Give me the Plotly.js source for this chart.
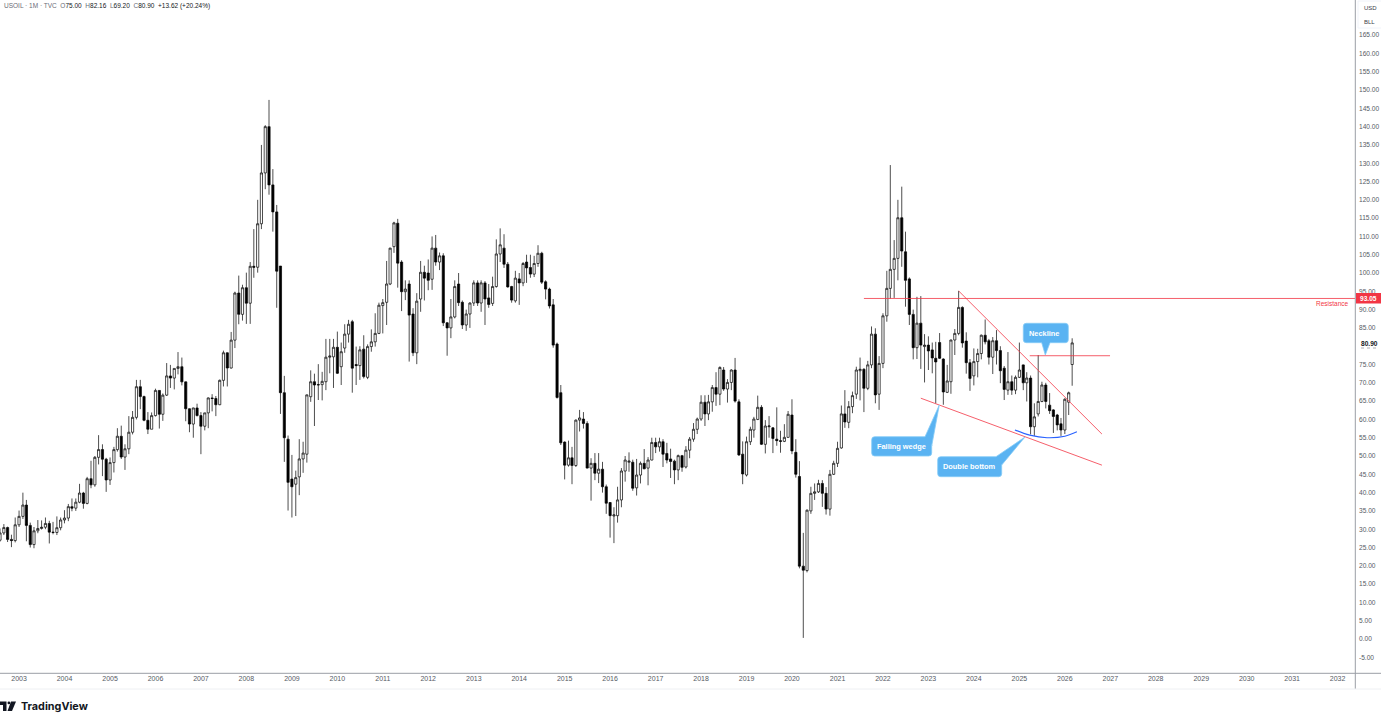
<!DOCTYPE html>
<html>
<head>
<meta charset="utf-8">
<script src="https://cdn.plot.ly/plotly-3.0.1.min.js"></script>
<style>
html, body { margin: 0; padding: 0; background: #fff; overflow: hidden; }
#chart { width: 1381px; height: 722px; }
</style>
</head>
<body>
<div id="chart"></div>
<script>
// first candle of the monthly series, one value per month from here on
var first_year = 2002, first_month = 8;

var opens = [
    27.00, 28.98, 30.45, 27.22, 26.89,
    31.20, 33.51, 36.60, 31.04, 25.80, 29.56, 30.19, 30.54, 31.57, 29.20, 29.11, 30.41,
    32.52, 33.05, 36.16, 35.76, 37.38, 39.88, 37.05, 43.80, 42.12, 49.64, 51.76, 49.13,
    43.45, 48.20, 51.75, 55.40, 49.72, 51.97, 56.50, 60.57, 68.94, 66.24, 59.76, 57.32,
    61.04, 67.92, 61.41, 66.63, 71.88, 71.29, 73.93, 74.40, 70.26, 62.91, 58.73, 63.13,
    61.05, 58.14, 61.79, 65.87, 65.71, 64.01, 70.68, 78.21, 74.04, 81.66, 94.53, 88.71,
    95.98, 91.75, 101.84, 101.58, 113.46, 127.35, 140.00, 124.08, 116.7, 101.9, 67.3, 54.6,
    43.7, 42.3, 44.3, 49.2, 50.5, 66.2, 70.3, 69.4, 69.5, 70.3, 77.0, 77.1,
    79.7, 74.4, 79.5, 83.3, 86.7, 75.0, 74.7, 79.2, 71.5, 79.9, 81.2, 83.5,
    91.1, 92.0, 97.0, 107.2, 113.6, 103.0, 94.9, 97.0, 88.8, 78.2, 92.9, 100.2,
    100.0, 98.3, 106.8, 103.0, 104.7, 86.4, 85.0, 88.0, 97.0, 92.0, 85.8, 88.8,
    91.8, 97.3, 91.8, 97.3, 93.2, 91.7, 96.3, 105.2, 106.8, 102.4, 96.3, 92.4,
    98.4, 97.3, 103.0, 101.5, 99.7, 102.6, 105.4, 97.6, 95.6, 91.3, 80.6, 67.3,
    53.8, 47.5, 49.5, 47.4, 59.8, 60.1, 58.9, 46.7, 48.0, 45.3, 46.4, 41.6,
    37.3, 33.6, 33.7, 38.0, 45.9, 48.3, 48.3, 41.3, 44.8, 48.0, 46.7, 48.9,
    53.7, 52.5, 53.9, 50.7, 49.2, 48.6, 46.2, 50.1, 47.0, 51.6, 54.6, 57.3,
    60.1, 64.7, 61.5, 64.8, 68.7, 66.9, 73.5, 68.3, 70.1, 73.5, 64.8, 50.5,
    44.8, 53.9, 57.1, 60.0, 63.3, 53.2, 58.0, 57.7, 54.6, 54.2, 54.0, 55.1,
    61.2, 51.0, 44.4, 19.9, 18.7, 35.0, 39.8, 40.2, 42.5, 39.8, 35.5, 45.0,
    48.0, 52.2, 61.5, 59.2, 63.5, 66.9, 73.3, 73.7, 68.5, 74.9, 83.3, 66.9,
    75.3, 88.3, 95.8, 101.0, 104.0, 115.1, 105.8, 98.4, 88.7, 79.6, 86.3, 79.9,
    80.3, 79.0, 76.7, 81.0, 76.5, 67.4, 70.3, 81.7, 83.5, 90.6, 81.4, 75.5,
    71.9, 75.8, 78.0, 83.0, 81.5, 77.0, 81.5, 78.8, 74.0, 68.0, 70.3, 68.0,
    71.5, 74.9, 70.0, 71.3, 58.0, 61.5, 64.9, 69.4, 63.9, 62.6, 61.2, 58.8,
    57.1, 64.7, 75.00
];
var highs = [
    30.2, 31.4, 30.7, 28.5, 33.2,
    35.1, 39.99, 38.0, 31.8, 30.6, 32.5, 32.4, 33.2, 32.3, 32.0, 33.5, 33.2,
    35.2, 36.9, 38.4, 38.4, 42.4, 40.2, 44.3, 48.7, 50.0, 55.7, 53.2, 49.5,
    49.6, 52.5, 57.6, 58.3, 53.2, 60.9, 62.3, 70.8, 70.8, 66.5, 62.0, 61.9,
    68.4, 68.0, 67.1, 75.4, 74.9, 73.9, 78.4, 76.9, 70.3, 63.0, 63.2, 64.3,
    62.0, 61.8, 66.0, 66.9, 66.4, 70.9, 78.8, 78.3, 83.9, 94.9, 99.3, 96.8,
    100.1, 103.0, 112.0, 120.0, 135.0, 140.4, 147.3, 128.4, 118.6, 101.9, 71.9, 55.6,
    50.3, 46.0, 54.6, 53.9, 66.8, 73.4, 72.5, 75.1, 73.0, 82.0, 82.0, 82.0,
    84.0, 81.0, 86.0, 87.2, 87.2, 79.9, 80.0, 83.0, 80.5, 84.6, 89.0, 91.9,
    92.9, 103.3, 106.9, 114.0, 114.8, 103.5, 98.0, 98.0, 90.4, 94.5, 103.3, 102.0,
    103.7, 110.0, 110.4, 105.6, 105.4, 86.6, 92.9, 98.0, 100.0, 92.5, 90.0, 92.0,
    98.0, 98.0, 98.0, 97.8, 97.0, 99.0, 109.2, 112.2, 110.6, 103.0, 96.5, 100.6,
    100.0, 103.0, 105.0, 105.0, 104.7, 107.6, 105.8, 98.0, 96.0, 92.9, 81.0, 69.4,
    54.0, 54.2, 52.5, 60.0, 62.6, 62.0, 59.5, 49.4, 50.8, 50.8, 48.4, 42.2,
    37.4, 36.0, 41.6, 46.7, 50.0, 51.0, 49.0, 49.2, 48.5, 51.9, 49.7, 55.0,
    55.0, 55.0, 54.6, 53.6, 52.0, 49.0, 50.4, 50.3, 52.7, 55.2, 59.0, 60.5,
    66.6, 66.6, 66.7, 69.4, 72.9, 74.5, 74.3, 71.0, 73.7, 76.8, 65.5, 54.0,
    55.3, 58.0, 60.7, 66.5, 63.9, 59.8, 60.9, 57.9, 63.3, 56.9, 58.7, 62.3,
    65.5, 54.6, 48.6, 29.0, 35.4, 41.6, 42.5, 43.5, 43.4, 41.5, 46.2, 48.7,
    53.9, 63.8, 68.0, 65.0, 67.6, 74.4, 76.9, 74.0, 76.0, 85.4, 84.9, 77.3,
    89.0, 100.6, 129.5, 109.0, 120.0, 123.6, 111.3, 98.8, 90.0, 93.5, 93.7, 83.3,
    82.7, 81.0, 81.2, 83.6, 76.7, 74.9, 81.8, 84.7, 95.1, 90.9, 83.8, 76.5,
    79.4, 79.3, 83.2, 87.3, 82.0, 82.5, 84.4, 80.0, 74.6, 78.4, 72.0, 72.0,
    81.0, 75.0, 72.9, 72.0, 64.4, 77.6, 70.3, 70.0, 67.2, 62.8, 61.5, 60.4,
    65.8, 67.6, 82.16
];
var lows = [
    26.6, 28.4, 26.5, 25.1, 26.4,
    30.6, 32.8, 26.7, 25.0, 24.8, 28.9, 29.9, 30.0, 26.1, 28.6, 28.4, 29.7,
    31.6, 32.2, 34.9, 35.0, 37.1, 35.6, 36.8, 41.2, 41.6, 47.7, 44.5, 40.2,
    42.1, 45.5, 51.2, 49.2, 46.2, 50.5, 55.9, 60.0, 62.8, 59.5, 56.0, 57.3,
    60.8, 57.5, 59.6, 66.4, 68.6, 68.2, 72.3, 69.3, 59.5, 56.5, 55.0, 60.8,
    50.5, 57.0, 57.6, 62.2, 60.9, 63.9, 69.0, 69.0, 73.9, 79.5, 86.0, 87.0,
    86.1, 86.1, 98.7, 100.1, 112.0, 122.9, 121.4, 111.3, 90.5, 61.5, 48.4, 35.1,
    33.2, 33.6, 39.3, 45.4, 48.2, 64.8, 58.2, 65.3, 65.2, 68.0, 72.6, 68.6,
    72.4, 69.4, 78.2, 81.0, 67.3, 69.4, 70.8, 71.2, 71.0, 78.5, 79.9, 83.3,
    83.5, 85.8, 96.7, 105.5, 96.0, 89.6, 92.6, 75.8, 77.3, 75.1, 89.4, 92.5,
    95.3, 95.4, 102.0, 100.8, 85.5, 77.4, 82.2, 87.6, 91.0, 84.7, 84.2, 85.0,
    91.0, 91.0, 89.4, 85.8, 90.5, 91.0, 96.0, 103.0, 101.4, 96.0, 91.9, 91.9,
    91.3, 96.4, 97.3, 98.7, 98.9, 101.7, 97.0, 92.8, 90.3, 79.6, 65.7, 53.0,
    43.6, 47.1, 42.3, 47.0, 56.7, 57.5, 46.6, 37.8, 43.4, 42.6, 40.0, 34.2,
    27.7, 26.2, 31.8, 36.0, 43.0, 45.7, 40.5, 39.2, 42.5, 46.4, 42.0, 48.8,
    50.8, 51.2, 47.0, 48.0, 44.0, 42.3, 43.4, 45.7, 46.6, 49.4, 53.9, 56.0,
    59.6, 58.2, 59.8, 62.1, 63.7, 63.9, 67.8, 64.6, 68.0, 64.6, 50.0, 42.3,
    44.4, 53.0, 55.0, 59.8, 53.0, 50.7, 55.0, 50.8, 52.8, 50.9, 53.8, 55.0,
    50.5, 44.1, 19.3, 0.3, 18.2, 34.2, 38.0, 39.9, 36.1, 34.0, 33.7, 44.8,
    47.0, 52.0, 57.7, 57.6, 61.7, 65.6, 65.2, 62.0, 68.0, 74.0, 64.4, 62.6,
    74.0, 86.7, 93.0, 93.2, 98.0, 101.7, 90.8, 85.8, 76.4, 76.5, 73.8, 70.1,
    73.5, 72.6, 64.4, 76.5, 64.0, 67.2, 67.0, 77.6, 83.0, 79.6, 72.5, 67.8,
    69.3, 71.5, 76.4, 80.5, 75.0, 72.4, 75.0, 69.9, 65.3, 66.7, 66.7, 66.9,
    71.3, 68.0, 64.9, 55.9, 55.5, 60.8, 64.7, 63.0, 61.5, 56.3, 57.0, 55.5,
    56.0, 61.2, 69.20
];
var closes = [
    28.98, 30.45, 27.22, 26.89, 31.20,
    33.51, 36.60, 31.04, 25.80, 29.56, 30.19, 30.54, 31.57, 29.20, 29.11, 30.41, 32.52,
    33.05, 36.16, 35.76, 37.38, 39.88, 37.05, 43.80, 42.12, 49.64, 51.76, 49.13, 43.45,
    48.20, 51.75, 55.40, 49.72, 51.97, 56.50, 60.57, 68.94, 66.24, 59.76, 57.32, 61.04,
    67.92, 61.41, 66.63, 71.88, 71.29, 73.93, 74.40, 70.26, 62.91, 58.73, 63.13, 61.05,
    58.14, 61.79, 65.87, 65.71, 64.01, 70.68, 78.21, 74.04, 81.66, 94.53, 88.71, 95.98,
    91.75, 101.84, 101.58, 113.46, 127.35, 140.00, 124.08, 116.7, 100.5, 67.3, 55.0, 42.8,
    41.6, 44.1, 49.2, 50.8, 66.7, 70.3, 69.4, 69.5, 70.4, 77.0, 77.3, 79.7,
    72.6, 78.5, 83.3, 86.0, 74.0, 74.7, 79.0, 71.7, 79.9, 81.2, 83.5, 91.2,
    91.9, 97.0, 106.8, 113.7, 102.7, 94.9, 95.6, 88.5, 78.2, 92.3, 100.2, 98.6,
    98.0, 106.8, 103.0, 104.7, 86.4, 85.0, 88.0, 96.3, 91.9, 85.8, 88.8, 91.8,
    97.3, 91.8, 97.3, 92.9, 91.4, 96.3, 105.2, 107.7, 102.4, 96.2, 92.6, 98.6,
    97.3, 102.6, 101.4, 99.7, 102.6, 105.4, 97.5, 95.6, 91.0, 80.3, 66.0, 53.6,
    47.5, 49.5, 47.4, 59.8, 60.4, 58.9, 46.7, 48.0, 45.3, 46.4, 41.6, 37.1,
    33.7, 33.9, 38.0, 45.9, 48.9, 48.6, 41.2, 44.8, 48.0, 46.5, 48.9, 53.7,
    52.5, 53.9, 50.5, 48.9, 48.5, 46.2, 50.1, 46.9, 51.6, 54.6, 57.3, 60.1,
    64.7, 61.5, 64.8, 68.7, 66.9, 74.2, 68.3, 70.1, 73.5, 65.0, 50.3, 45.1,
    53.9, 57.3, 60.1, 63.3, 53.2, 58.2, 58.2, 54.8, 54.2, 54.0, 55.1, 61.4,
    51.4, 45.0, 19.9, 18.8, 35.2, 39.8, 40.2, 42.5, 39.8, 35.5, 45.0, 48.0,
    52.1, 61.5, 59.3, 63.5, 66.5, 73.5, 73.7, 68.5, 74.9, 83.3, 66.7, 75.3,
    88.3, 95.8, 101.0, 104.0, 115.1, 106.0, 98.0, 88.7, 79.6, 86.3, 80.3, 80.3,
    78.7, 76.8, 75.7, 76.7, 67.5, 70.5, 81.7, 83.5, 90.6, 80.9, 75.5, 71.2,
    75.8, 78.0, 83.0, 81.2, 77.0, 81.5, 78.8, 73.3, 68.2, 70.3, 68.0, 71.5,
    73.5, 70.0, 71.3, 58.0, 60.7, 64.9, 69.4, 64.9, 62.4, 60.8, 58.5, 57.1,
    65.5, 67.28, 80.90
];

var year_ticks = ["2003-01-01", "2032-01-01"];
var price_ticks = [-5, 0, 5, 10, 15, 20, 25, 30, 35, 40, 45, 50, 55, 60, 65, 70, 75, 85, 90, 95, 100,
    105, 110, 115, 120, 125, 130, 135, 140, 145, 150, 155, 160, 165];
var price_labels = ["-5.00", "0.00", "5.00", "10.00", "15.00", "20.00", "25.00", "30.00", "35.00", "40.00",
    "45.00", "50.00", "55.00", "60.00", "65.00", "70.00", "75.00", "85.00", "90.00", "95.00", "100.00",
    "105.00", "110.00", "115.00", "120.00", "125.00", "130.00", "135.00", "140.00", "145.00", "150.00",
    "155.00", "160.00", "165.00"];

// the drawings on the chart
var resistance_price = 93.05, last_price = 80.90;
var resistance_dates = ["2021-08-01", "2032-05-20"];
var wedge_top_dates = ["2023-09-01", "2026-10-26"], wedge_top_prices = [95.1, 56.0];
var wedge_low_dates = ["2022-11-01", "2026-10-26"], wedge_low_prices = [65.8, 47.5];
var neck_dates = ["2025-03-25", "2026-12-30"], neck_price = 77.4;
var curve_dates = ["2024-11-26", "2025-03-25", "2025-08-11", "2026-01-01", "2026-04-08"];
var curve_prices = [57.1, 55.7, 55.0, 55.4, 56.6];

var dates = [];
for (i=0; i<closes.length; i++) {
    m = first_month - 1 + i;
    y = first_year + Math.floor(m / 12);
    mm = (m % 12) + 1;
    dates.push(y + "-" + (mm < 10 ? "0" + mm : mm) + "-01");
}

var plot_w = 1355, plot_h = 673;
function px(x) { return x / plot_w }
function py(y) { return 1 - y / plot_h }

function pt(x, y) { return px(x) + "," + py(y) }

// rounded box with a tail, corners listed clockwise from the top left
function callout(x0, y0, x1, y1, tail) {
    r = 3;
    p = "M " + pt(x0 + r, y0);
    tail_top = tail.side == "top" ? " L " + pt(tail.a[0], tail.a[1]) + " L " + pt(tail.tip[0], tail.tip[1]) + " L " + pt(tail.b[0], tail.b[1]) : "";
    p += tail_top;
    if (tail.side == "top") {
        p += " L " + pt(x1, y0 + r + 5);
    } else {
        p += " L " + pt(x1 - r, y0) + " Q " + pt(x1, y0) + " " + pt(x1, y0 + r);
    }
    p += " L " + pt(x1, y1 - r) + " Q " + pt(x1, y1) + " " + pt(x1 - r, y1);
    if (tail.side == "bottom") {
        p += " L " + pt(tail.b[0], tail.b[1]) + " L " + pt(tail.tip[0], tail.tip[1]) + " L " + pt(tail.a[0], tail.a[1]);
    }
    p += " L " + pt(x0 + r, y1) + " Q " + pt(x0, y1) + " " + pt(x0, y1 - r);
    p += " L " + pt(x0, y0 + r) + " Q " + pt(x0, y0) + " " + pt(x0 + r, y0) + " Z";
    return {type: "path", xref: "paper", yref: "paper", path: p, fillcolor: "#5AB3F2", line: {color: "#86CBF6", width: 0.8}, layer: "above"};
}

function red_line(x0, x1, y0, y1) {
    return {type: "line", xref: "x", yref: "y", x0: x0, x1: x1, y0: y0, y1: y1, line: {color: "#F23645", width: 0.8}, layer: "above"};
}

function frame_line(x0, y0, x1, y1, color) {
    return {type: "line", xref: "paper", yref: "paper", x0: px(x0), x1: px(x1), y0: py(y0), y1: py(y1), line: {color: color, width: 1}, layer: "above"};
}

function label(x, y, text, size, color, anchor, family) {
    return {xref: "paper", yref: "paper", x: px(x), y: py(y), text: text, showarrow: false, xanchor: anchor, yanchor: "middle",
        font: {size: size, color: color, family: family || "Liberation Sans, sans-serif"}, borderpad: 0};
}

var candles = {
    type: "candlestick",
    x: dates,
    open: opens,
    high: highs,
    low: lows,
    close: closes,
    increasing: {line: {color: "#000000", width: 0.7}, fillcolor: "#FFFFFF"},
    decreasing: {line: {color: "#000000", width: 0.7}, fillcolor: "#000000"},
    whiskerwidth: 0,
    hoverinfo: "skip",
    showlegend: false
};

var curve = {
    type: "scatter",
    mode: "lines",
    x: curve_dates,
    y: curve_prices,
    line: {color: "#2962FF", width: 1.1, shape: "spline", smoothing: 1},
    hoverinfo: "skip",
    showlegend: false
};

var shapes = [
    red_line(resistance_dates[0], resistance_dates[1], resistance_price, resistance_price),
    red_line(wedge_top_dates[0], wedge_top_dates[1], wedge_top_prices[0], wedge_top_prices[1]),
    red_line(wedge_low_dates[0], wedge_low_dates[1], wedge_low_prices[0], wedge_low_prices[1]),
    red_line(neck_dates[0], neck_dates[1], neck_price, neck_price),
    callout(871.7, 436.7, 931.7, 456, {side: "top", a: [925, 436.7], tip: [939.3, 405], b: [931.7, 446]}),
    callout(937.7, 456.7, 1001.7, 476.7, {side: "top", a: [996, 456.7], tip: [1025, 437], b: [1001.7, 465]}),
    callout(1023.3, 323.3, 1068.3, 342.7, {side: "bottom", a: [1041.7, 342.7], tip: [1045.3, 355], b: [1050, 342.7]}),
    // frame around the plot
    frame_line(0, 673.3, 1381, 673.3, "#9A9EA6"),
    frame_line(1355.3, 0, 1355.3, 689, "#9A9EA6"),
    frame_line(0, 689, 1381, 689, "#EEF0F3"),
    // faint box behind the currency and unit labels
    {type: "rect", xref: "paper", yref: "paper", x0: px(1358), x1: px(1386), y0: py(1), y1: py(28), fillcolor: "rgba(0,0,0,0)", line: {color: "#F0F3FA", width: 1}, layer: "above"},
    // red price tag and dotted mark under the last price
    {type: "rect", xref: "paper", yref: "paper", x0: px(1356), x1: px(1381), y0: py(293), y1: py(303.5), fillcolor: "#F23645", line: {width: 0}, layer: "above"},
    {type: "line", xref: "paper", yref: "paper", x0: px(1361), x1: px(1378), y0: py(348), y1: py(348), line: {color: "#8A8E96", width: 0.7, dash: "dot"}, layer: "above"},
    // TradingView mark
    {type: "path", xref: "paper", yref: "paper", fillcolor: "#131722", line: {width: 0}, layer: "above",
        path: "M " + pt(0, 701.5) + " L " + pt(6.5, 701.5) + " L " + pt(6.5, 711) + " L " + pt(3, 711) + " L " + pt(3, 705) + " L " + pt(0, 705) + " Z"},
    {type: "circle", xref: "paper", yref: "paper", x0: px(7.5), x1: px(10.3), y0: py(701.5), y1: py(704.3), fillcolor: "#131722", line: {width: 0}, layer: "above"},
    {type: "path", xref: "paper", yref: "paper", fillcolor: "#131722", line: {width: 0}, layer: "above",
        path: "M " + pt(11, 701.5) + " L " + pt(16, 701.5) + " L " + pt(12, 711) + " L " + pt(7.5, 711) + " Z"}
];

var head_gray = "#6A6D78", head_dark = "#131722";
function span(text, color) { return '<span style="color:' + color + '">' + text + "</span>" }
var head_text = span("USOIL · 1M · TVC", head_gray) + "  " +
    span("O", head_gray) + span("75.00", head_dark) + "  " +
    span("H", head_gray) + span("82.16", head_dark) + "  " +
    span("L", head_gray) + span("69.20", head_dark) + "  " +
    span("C", head_gray) + span("80.90", head_dark) + "  " +
    span("+13.62 (+20.24%)", head_dark);

var annotations = [
    label(2.7, 6.5, head_text, 6.5, head_dark, "left"),
    label(1362.7, 8, "USD", 6, "#3A3E48", "left"),
    label(1362.7, 22, "BLL", 6, "#3A3E48", "left"),
    label(1368.5, 298.3, "<b>93.05</b>", 6.6, "#FFFFFF", "center"),
    label(1369.5, 343.5, "<b>80.90</b>", 6.6, "#131722", "center"),
    label(1349.5, 304, "Resistance", 6.5, "#F23645", "right"),
    label(901.7, 446.3, "<b>Falling wedge</b>", 7.4, "#FFFFFF", "center"),
    label(969.7, 466.7, "<b>Double bottom</b>", 7.4, "#FFFFFF", "center"),
    label(1044.3, 333, "<b>Neckline</b>", 7.4, "#FFFFFF", "center"),
    label(19.5, 706, "<b>TradingView</b>", 10.8, "#131722", "left", "Inter, sans-serif")
];

var layout = {
    width: 1381,
    height: 722,
    margin: {l: 0, r: 26, t: 0, b: 49, pad: 0},
    paper_bgcolor: "#FFFFFF",
    plot_bgcolor: "#FFFFFF",
    boxgap: 0.1,
    showlegend: false,
    hovermode: false,
    xaxis: {
        type: "date",
        range: ["2002-08-01", "2032-05-20"],
        rangeslider: {visible: false},
        tick0: year_ticks[0],
        dtick: "M12",
        tickformat: "%Y",
        showgrid: false,
        zeroline: false,
        showline: false,
        ticks: "",
        tickfont: {size: 7, color: "#555A64", family: "Liberation Sans, sans-serif"}
    },
    yaxis: {
        side: "right",
        range: [-9.29, 174.6],
        tickmode: "array",
        tickvals: price_ticks,
        ticktext: price_labels,
        showgrid: false,
        zeroline: false,
        showline: false,
        ticks: "",
        ticklabelstandoff: 3,
        tickfont: {size: 6.6, color: "#555A64", family: "Liberation Sans, sans-serif"}
    },
    shapes: shapes,
    annotations: annotations
};

Plotly.newPlot("chart", [candles, curve], layout, {displayModeBar: false, staticPlot: true});
</script>
</body>
</html>
